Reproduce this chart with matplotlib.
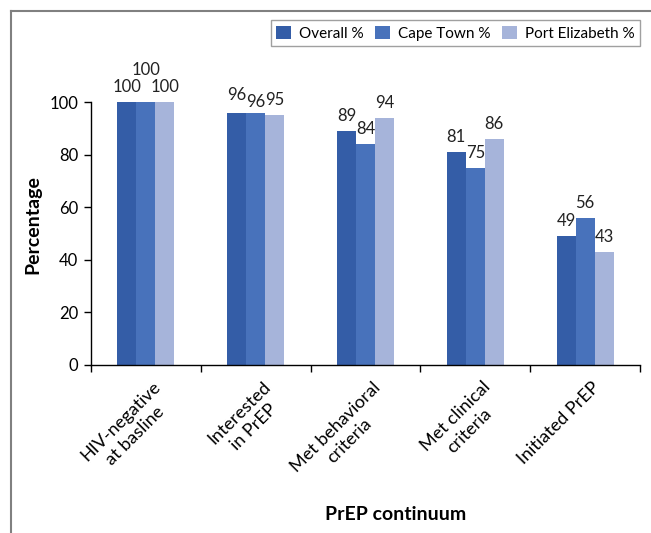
import numpy as np
import matplotlib
matplotlib.use("Agg")
import matplotlib.pyplot as plt
from matplotlib.lines import Line2D

plt.rcParams['font.family'] = ['Lato', 'DejaVu Sans']

# PrEP continuum percentages by site
stages = ["HIV-negative\nat basline", "Interested\nin PrEP", "Met behavioral\ncriteria",
          "Met clinical\ncriteria", "Initiated PrEP"]
overall = [100, 96, 89, 81, 49]
cape_town = [100, 96, 84, 75, 56]
port_elizabeth = [100, 95, 94, 86, 43]

series = [("Overall %", overall, "#345DA7"),
          ("Cape Town %", cape_town, "#4872BB"),
          ("Port Elizabeth %", port_elizabeth, "#A6B4DA")]

# extra lift (points) for value labels that would otherwise collide, per series
label_lift = [[0, 2, 0, 0, 0],
              [12, -3, 0, 0, 0],
              [0, 0, 0, 0, 0]]

fig = plt.figure(figsize=(6.51, 5.33), dpi=100)
ax = fig.add_axes([0.1398, 0.3152, 0.8432, 0.4934])

x = np.arange(len(stages)) + 0.5
width = 0.173
for i, (name, vals, color) in enumerate(series):
    pos = x + (i - 1) * width
    ax.bar(pos, vals, width, color=color, label=name, zorder=2)
    for j, (px, v) in enumerate(zip(pos, vals)):
        ax.annotate(f"{v}", (px, v), xytext=(0, 5 + label_lift[i][j]),
                    textcoords="offset points", ha="center", va="bottom",
                    fontsize=12, color="#222222", annotation_clip=False)

ax.set_xlim(0, len(stages))
ax.set_ylim(0, 100)
ax.set_yticks(np.arange(0, 101, 20))
ax.set_xticks(np.arange(0, len(stages) + 1))
ax.set_xticklabels([])
ax.set_xticks(x + 0.06, minor=True)
ax.set_xticklabels(stages, minor=True, rotation=45, ha="right", va="top",
                   rotation_mode="anchor", multialignment="center",
                   linespacing=1.3)
ax.tick_params(axis="x", which="minor", length=0, pad=10, labelsize=13)
ax.tick_params(axis="x", which="major", length=5, width=1)
ax.tick_params(axis="y", length=5, width=1, labelsize=12, pad=4)

for side in ("top", "right"):
    ax.spines[side].set_visible(False)
for side in ("left", "bottom"):
    ax.spines[side].set_linewidth(1)

fig.text(0.0507, 0.578, "Percentage", rotation=90, ha="center", va="center",
         fontsize=14, fontweight="bold")
fig.text(0.607, 0.034, "PrEP continuum", ha="center", va="center",
         fontsize=14, fontweight="bold")

leg = fig.legend(loc="upper right", bbox_to_anchor=(0.983, 0.962), ncol=3,
                 fontsize=11, frameon=True, fancybox=False, edgecolor="#888888",
                 handlelength=1.0, handleheight=1.0, handletextpad=0.5,
                 columnspacing=0.75, borderpad=0.35, borderaxespad=0)
leg.get_frame().set_linewidth(1)

# outer frame on the top and left edges
fig.add_artist(Line2D([0.017, 1.0], [0.980, 0.980], color="#808080", lw=1.5,
                      transform=fig.transFigure))
fig.add_artist(Line2D([0.017, 0.017], [0.0, 0.980], color="#808080", lw=1.5,
                      transform=fig.transFigure))

fig.savefig("out.png", dpi=100)
